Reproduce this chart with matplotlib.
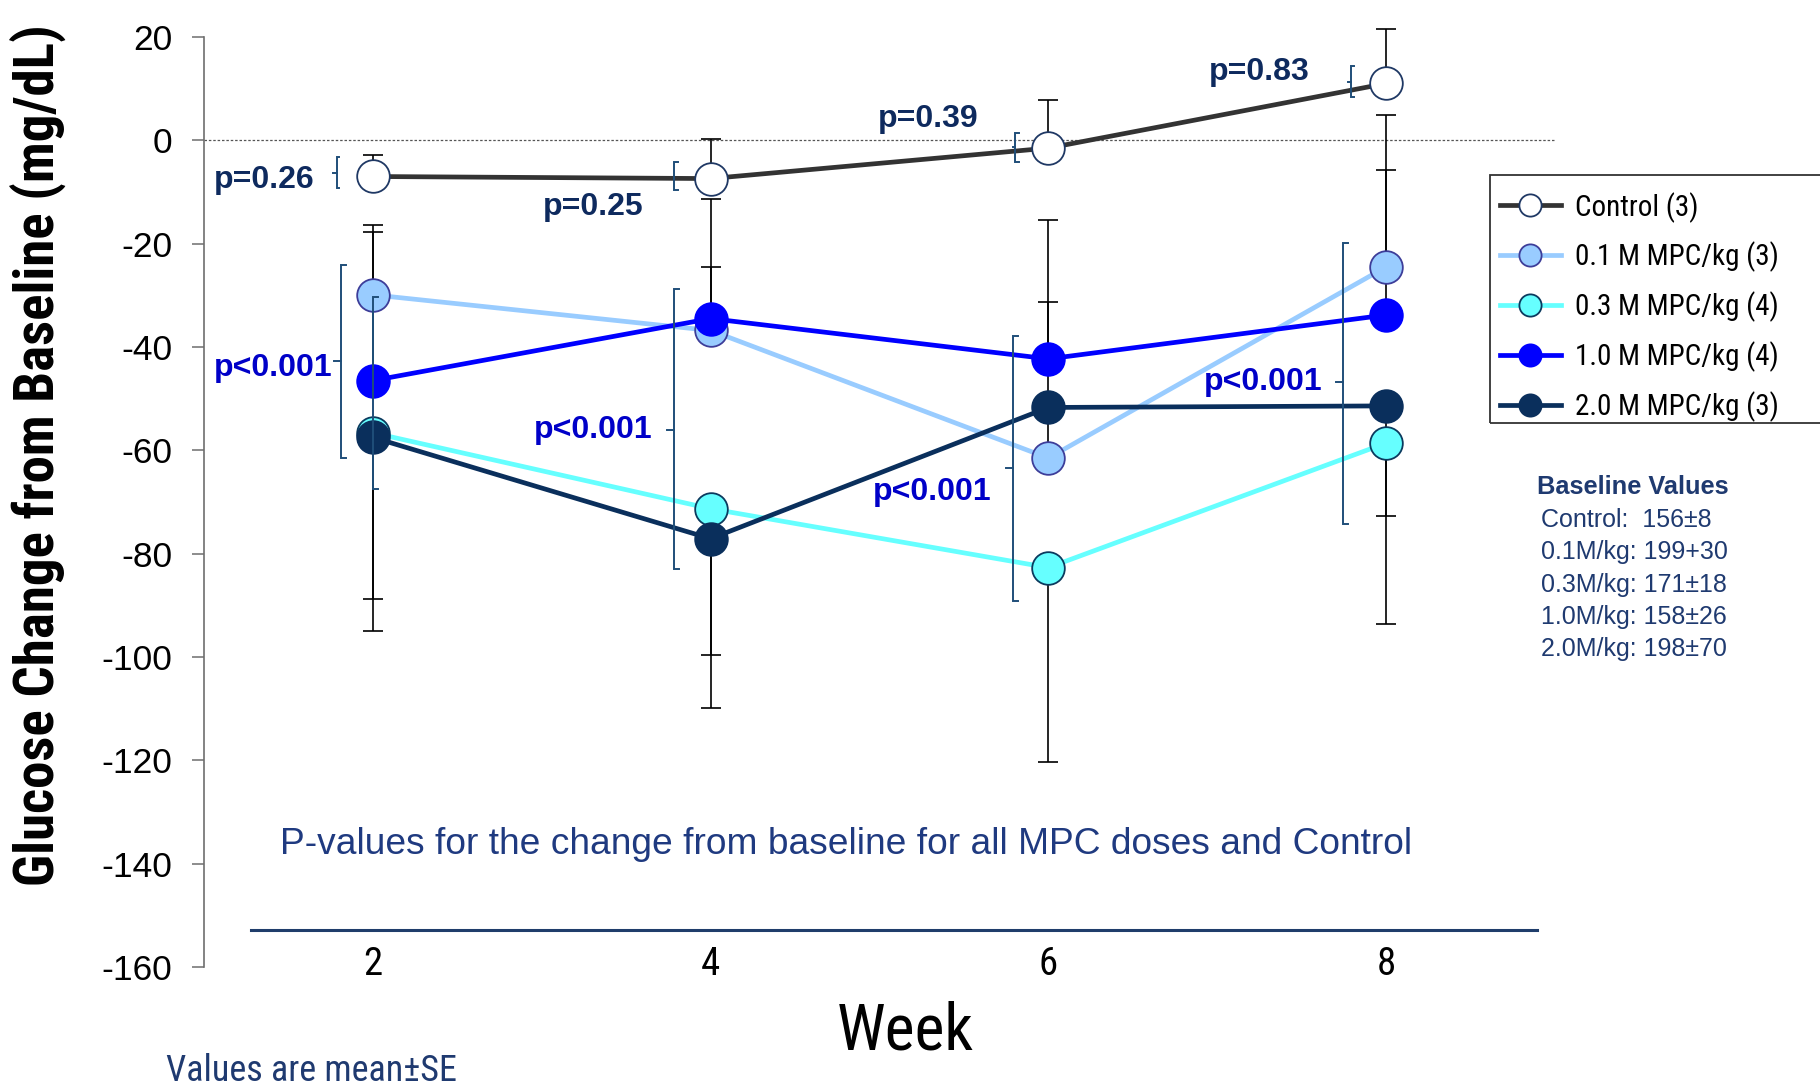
import matplotlib
matplotlib.use("Agg")
import matplotlib.pyplot as plt
from matplotlib import font_manager as fm
from matplotlib.lines import Line2D
from matplotlib.patches import Rectangle

# ---------------- data ----------------
weeks = [2, 4, 6, 8]
week_labels = ["2", "4", "6", "8"]
series_names = ["Control (3)", "0.1 M MPC/kg (3)", "0.3 M MPC/kg (4)",
                "1.0 M MPC/kg (4)", "2.0 M MPC/kg (3)"]
control = [-7.0, -7.4, -1.5, 11.0]
m01 = [-29.9, -36.8, -61.5, -24.5]
m03 = [-56.6, -71.3, -82.7, -58.6]
m10 = [-46.5, -34.5, -42.3, -33.8]
m20 = [-57.5, -77.1, -51.7, -51.4]

# error bars (SE) as drawn: upper / lower lengths
control_up = [4.1, 7.7, 9.3, 10.5]
control_dn = [0, 0, 0, 0]
m01_up = [13.6, 12.3, 10.0, 29.4]
m01_dn = [0, 0, 0, 0]
m03_up = [0, 0, 0, 0]
m03_dn = [32.1, 28.3, 37.6, 35.0]
m10_up = [28.7, 23.2, 11.1, 28.0]
m10_dn = [0, 0, 0, 0]
m20_up = [0, 0, 36.3, 0]
m20_dn = [37.4, 32.7, 0, 21.3]

yticks = [20, 0, -20, -40, -60, -80, -100, -120, -140, -160]

baseline_title = "Baseline Values"
baseline_lines = ["Control:  156±8", "0.1M/kg: 199+30", "0.3M/kg: 171±18",
                  "1.0M/kg: 158±26", "2.0M/kg: 198±70"]

p_labels = ["p=0.26", "p=0.25", "p=0.39", "p=0.83"]
p_mpc = ["p<0.001", "p<0.001", "p<0.001", "p<0.001"]

# ---------------- fonts ----------------
fams = {}
for f in fm.fontManager.ttflist:
    w = f.weight if isinstance(f.weight, int) else (700 if "bold" in str(f.weight) else 400)
    fams.setdefault(f.name, set()).add(w)

def pick(cands, bold=False, default="Liberation Sans"):
    for c in cands:
        if c in fams and (not bold or max(fams[c]) >= 700):
            return c
    return default

ARIAL = pick(["Liberation Sans", "Arimo"], default="DejaVu Sans")
NARROW = pick(["Liberation Sans Narrow", "Arial Narrow", "Roboto Condensed",
               "Archivo Narrow", "PT Sans Narrow", "Barlow Condensed"], default=ARIAL)
NARROW_B = pick(["Liberation Sans Narrow", "Arial Narrow", "Roboto Condensed",
                 "PT Sans Narrow", "Barlow Condensed", "Archivo Narrow"], bold=True, default=ARIAL)

NAVY = "#0e2a5e"
BLUE = "#0000c8"
TXTNAVY = "#1f3a70"

# ---------------- figure ----------------
W, H = 1820, 1087
fig = plt.figure(figsize=(W / 100, H / 100), dpi=100)
ax = fig.add_axes([204 / W, 1 - 967 / H, (1555 - 204) / W, (967 - 37) / H])
ax.set_xlim(1, 9)
ax.set_ylim(-160, 20)

for s in ["top", "right", "bottom"]:
    ax.spines[s].set_visible(False)
ax.spines["left"].set_color("#6e6e6e")
ax.spines["left"].set_linewidth(1.2)

ax.set_yticks(yticks)
ax.set_yticklabels([str(t) for t in yticks], fontsize=25.5, family=ARIAL)
ax.tick_params(axis="y", length=9, width=1.1, color="#6e6e6e", pad=14)
ax.set_xticks(weeks)
ax.set_xticklabels(week_labels, fontsize=28, family=NARROW)
ax.tick_params(axis="x", length=0, pad=-15)

# zero reference line
ax.axhline(0, color="#555555", lw=0.9, ls=(0, (2, 1.5)), zorder=1)

# series
styles = [
    dict(data=control, up=control_up, dn=control_dn, lc="#333333", fc="white", ec="#1f3864"),
    dict(data=m01, up=m01_up, dn=m01_dn, lc="#99ccff", fc="#99ccff", ec="#3d3d99"),
    dict(data=m03, up=m03_up, dn=m03_dn, lc="#66ffff", fc="#66ffff", ec="#0b3a5e"),
    dict(data=m10, up=m10_up, dn=m10_dn, lc="#0000ff", fc="#0000ff", ec="#0000ff"),
    dict(data=m20, up=m20_up, dn=m20_dn, lc="#0a2f5c", fc="#0a2f5c", ec="#0a2f5c"),
]

for st in styles:
    eb = ax.errorbar(weeks, st["data"], yerr=[st["dn"], st["up"]], fmt="none",
                     ecolor="black", elinewidth=1.2, capsize=7, capthick=1.2, zorder=2)
    for art in eb.lines[1] + eb.lines[2]:
        art.set_clip_on(False)

handles = []
for i, (st, name) in enumerate(zip(styles, series_names)):
    ax.plot(weeks, st["data"], color=st["lc"], lw=3.4, zorder=3 + i * 0.1,
            marker="o", ms=23.5, mfc=st["fc"], mec=st["ec"], mew=1.3)
    handles.append(Line2D([], [], color=st["lc"], lw=3.4, marker="o", ms=16,
                          mfc=st["fc"], mec=st["ec"], mew=1.3))

# ---------------- brackets ----------------
def bracket(x, y0, y1, cap=0.03, mid=None, tick=0.04, color="#1f4e79", lw=1.4, z=6):
    ax.plot([x + cap, x, x, x + cap], [y0, y0, y1, y1], color=color, lw=lw,
            zorder=z, solid_joinstyle="miter")
    if mid is not None:
        ax.plot([x, x - tick], [mid, mid], color=color, lw=lw, zorder=z)

# p<0.001 brackets (MPC doses)
bracket(1.810, -24.1, -61.5, mid=-42.8)
bracket(2.0, -30.4, -67.4)
bracket(3.783, -28.8, -82.9, mid=-56.0)
bracket(5.792, -37.9, -89.2, mid=-63.5)
bracket(7.745, -19.8, -74.2, mid=-46.8)
# control braces
bracket(1.786, -3.3, -9.3, cap=0.015, mid=-6.3, tick=0.02)
bracket(3.783, -4.1, -9.7, cap=0.025)
bracket(5.804, 1.5, -4.1, cap=0.025, mid=-1.3, tick=0.015)
bracket(7.792, 14.3, 8.3, cap=0.015, mid=11.3, tick=0.02)

# p labels
pfs = 23
ctrl_pos = [(1.655, -7.6), (3.602, -13.0), (5.585, 4.1), (7.549, 13.3)]
for lab, (x, y) in zip(p_labels, ctrl_pos):
    ax.text(x, y, lab, ha="right", va="center", fontsize=pfs, fontweight="bold",
            color=NAVY, family=ARIAL, zorder=7)
mpc_pos = [(1.760, -44.0), (3.655, -56.0), (5.665, -68.0), (7.625, -46.7)]
for lab, (x, y) in zip(p_mpc, mpc_pos):
    ax.text(x, y, lab, ha="right", va="center", fontsize=pfs, fontweight="bold",
            color=BLUE, family=ARIAL, zorder=7)

# P-values note + rule line
ax.text(4.801, -136.3, "P-values for the change from baseline for all MPC doses and Control",
        ha="center", va="center", fontsize=26.7, color="#1f3a80", family=ARIAL)
ax.plot([1.276, 8.896], [-152.8, -152.8], color="#1f3d6b", lw=2.2, clip_on=False, zorder=2)

# ---------------- figure texts ----------------
fig.text(0.021, 1 - 455 / H, "Glucose Change from Baseline (mg/dL)", rotation=90,
         ha="center", va="center", fontsize=39.5, fontweight="bold",
         family=NARROW_B, color="black")
fig.text(905 / W, 1 - 1031 / H, "Week", ha="center", va="center",
         fontsize=46, family=NARROW, color="black")
fig.text(166 / W, 1 - 1071 / H, "Values are mean±SE", ha="left", va="center",
         fontsize=26, family=NARROW, color=TXTNAVY)

# baseline block
fig.text(1633 / W, 1 - 487 / H, baseline_title, ha="center", va="center",
         fontsize=18.3, fontweight="bold", family=ARIAL, color=TXTNAVY)
for i, line in enumerate(baseline_lines):
    fig.text(1541 / W, 1 - (520 + i * 32.3) / H, line, ha="left", va="center",
             fontsize=18, family=ARIAL, color=TXTNAVY)

# legend
leg = fig.legend(handles, series_names, loc="upper left",
                 bbox_to_anchor=(1494 / W, 1 - 186 / H), frameon=False,
                 prop=dict(family=NARROW, size=21),
                 handlelength=2.08, handletextpad=0.5, labelspacing=0.66,
                 borderpad=0.2, borderaxespad=0)
fig.patches.append(Rectangle((1490 / W, 1 - 423 / H), 360 / W, 248 / H,
                             transform=fig.transFigure, fill=False,
                             edgecolor="#333333", lw=1.3))

fig.savefig("out.png", dpi=100)
